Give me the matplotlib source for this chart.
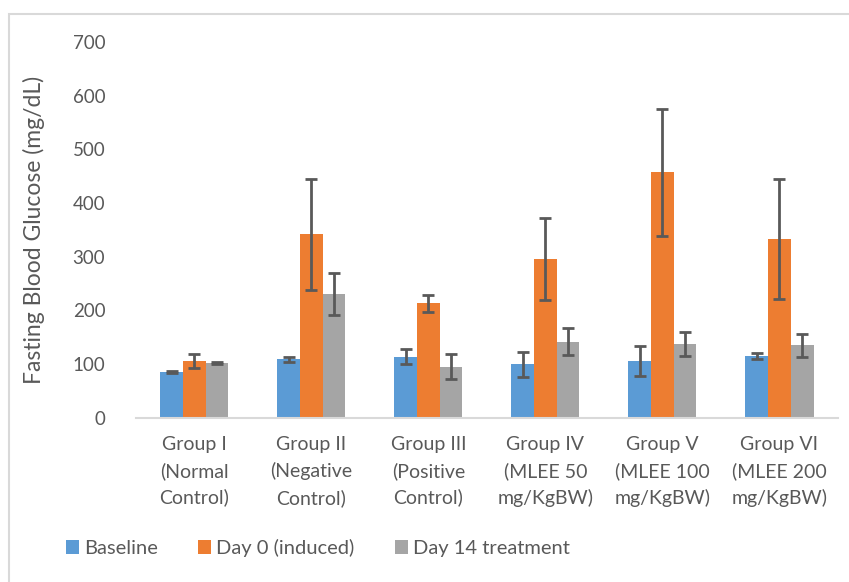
import numpy as np
import matplotlib
matplotlib.use('Agg')
import matplotlib.pyplot as plt
from matplotlib.patches import Rectangle

plt.rcParams['font.family'] = ['Lato', 'DejaVu Sans']

groups = ['Group I\n(Normal\nControl)', 'Group II\n(Negative\nControl)',
          'Group III\n(Positive\nControl)', 'Group IV\n(MLEE 50\nmg/KgBW)',
          'Group V\n(MLEE 100\nmg/KgBW)', 'Group VI\n(MLEE 200\nmg/KgBW)']

baseline = [86, 109, 114, 100, 106, 115]
baseline_err = [2, 5, 14, 23, 28, 6]
day0 = [106, 342, 213, 296, 457, 333]
day0_err = [13, 103, 15, 76, 119, 112]
day14 = [102, 231, 95, 142, 138, 135]
day14_err = [2, 39, 23, 25, 22, 21]

series = [('Baseline', baseline, baseline_err, '#5B9BD5'),
          ('Day 0 (induced)', day0, day0_err, '#ED7D31'),
          ('Day 14 treatment', day14, day14_err, '#A5A5A5')]

txt = '#595959'
fig = plt.figure(figsize=(8.49, 5.82), dpi=100)
ax = fig.add_axes([0.160, 0.282, 0.827, 0.646])

x = np.arange(len(groups))
w = 0.194
for i, (name, vals, errs, col) in enumerate(series):
    ax.bar(x + (i - 1) * w, vals, w, color=col, label=name,
           yerr=errs, capsize=4.5,
           error_kw=dict(ecolor='#595959', elinewidth=2, capthick=2))

ax.set_xlim(-0.5, len(groups) - 0.5)
ax.set_ylim(0, 700)
ax.set_yticks(range(0, 701, 100))
ax.set_xticks(x)
ax.set_xticklabels(groups, fontsize=14, color=txt, linespacing=1.6)
ax.tick_params(axis='y', labelsize=13.5, labelcolor=txt, length=0, pad=22)
ax.tick_params(axis='x', length=0, pad=13)
for s in ['top', 'right', 'left']:
    ax.spines[s].set_visible(False)
ax.spines['bottom'].set_color('#D9D9D9')
ax.spines['bottom'].set_linewidth(1.5)
ax.set_ylabel('Fasting Blood Glucose (mg/dL)', fontsize=16.5, color=txt)
ax.yaxis.set_label_coords(-0.13, 0.5)

leg = fig.legend(loc='center left', bbox_to_anchor=(66 / 849, 1 - 548 / 582), ncol=3,
                 frameon=False, fontsize=14.5, handlelength=0.65, handleheight=0.65,
                 handletextpad=0.25, columnspacing=2.0, borderpad=0, borderaxespad=0)
for t in leg.get_texts():
    t.set_color(txt)

# outer chart frame
fig.patches.append(Rectangle((9 / 849, -0.1), 1.2, 1 - 14 / 582 + 0.1,
                             transform=fig.transFigure, fill=False,
                             edgecolor='#D9D9D9', linewidth=1.5))

fig.savefig('out.png', dpi=100)
